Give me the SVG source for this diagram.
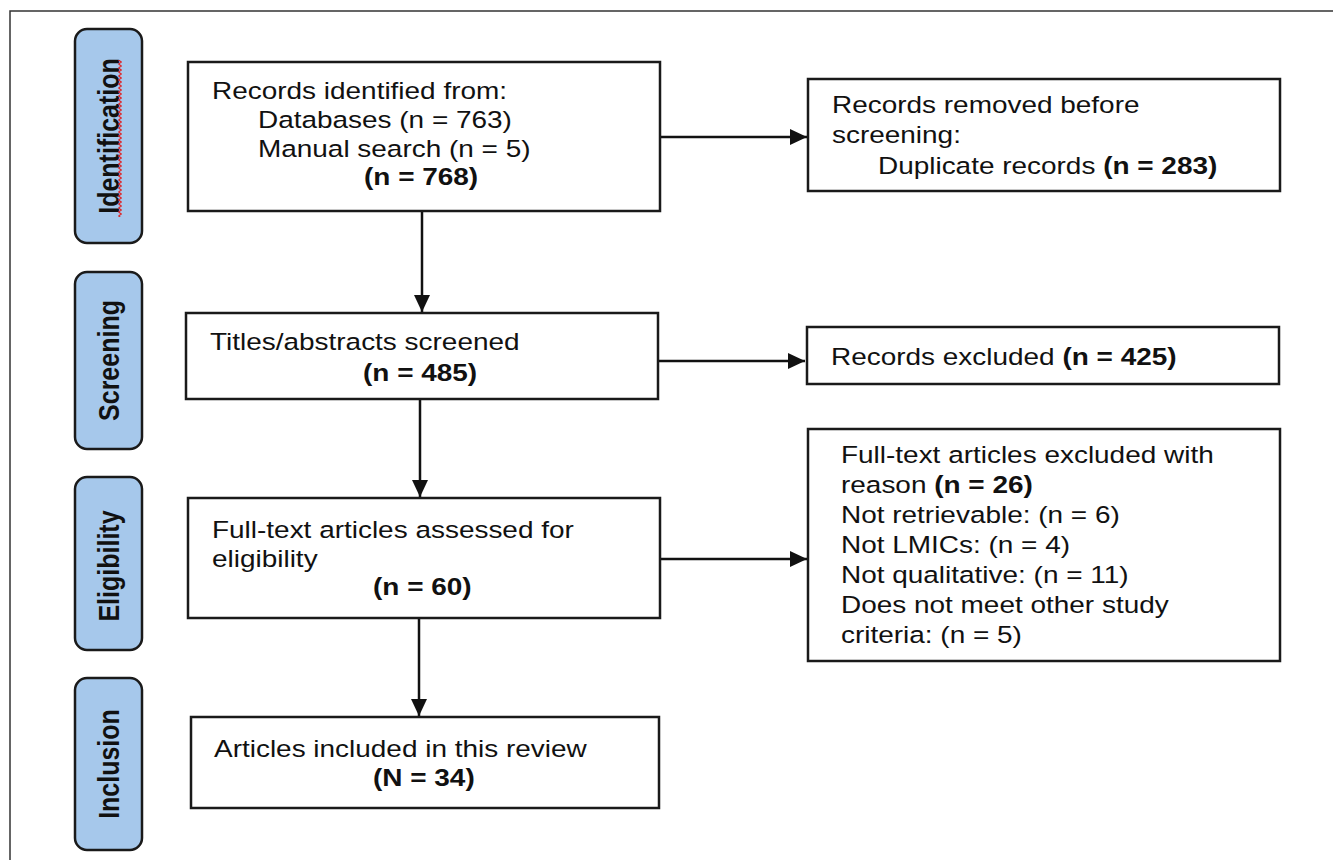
<svg xmlns="http://www.w3.org/2000/svg" width="1333" height="860" viewBox="0 0 1333 860">
  <style>
    .box { fill: #ffffff; stroke: #1a1a1a; stroke-width: 2.5; }
    .pill { fill: #a6c8eb; stroke: #1a1a1a; stroke-width: 2.5; }
    .t { font-family: "Liberation Sans", Arial, sans-serif; font-size: 23.3px; fill: #111111; }
    .b { font-weight: bold; }
    .lab { font-family: "Liberation Sans", Arial, sans-serif; font-size: 25px; font-weight: bold; fill: #111111; text-anchor: middle; }
    .conn { stroke: #111111; stroke-width: 2.5; fill: none; marker-end: url(#arrow); }
  </style>
  <defs>
    <marker id="arrow" markerUnits="userSpaceOnUse" markerWidth="18" markerHeight="16" refX="17" refY="8" orient="auto">
      <path d="M0,0 L17,8 L0,16 Z" fill="#111111"/>
    </marker>
    <pattern id="squig" patternUnits="userSpaceOnUse" x="118" y="0" width="4" height="4">
      <path d="M0.5,0 L3.5,2 L0.5,4" stroke="#e02020" stroke-width="1.1" fill="none"/>
    </pattern>
  </defs>
  <rect x="0" y="0" width="1333" height="860" fill="#ffffff"/>
  <rect x="10" y="11" width="1400" height="900" fill="none" stroke="#333333" stroke-width="1.5"/>

  <g id="stage-identification">
    <rect class="pill" x="75" y="29" width="67" height="214" rx="12" ry="12"/>
    <text class="lab" transform="translate(108.5,136) scale(1.2,1) rotate(-90)" x="0" y="9">Identification</text>
    <rect x="118" y="60" width="4" height="157" fill="url(#squig)"/>
  </g>
  <g id="stage-screening">
    <rect class="pill" x="75" y="272" width="67" height="177" rx="12" ry="12"/>
    <text class="lab" transform="translate(108.5,360.5) scale(1.2,1) rotate(-90)" x="0" y="9">Screening</text>
  </g>
  <g id="stage-eligibility">
    <rect class="pill" x="75" y="477" width="67" height="173" rx="12" ry="12"/>
    <text class="lab" transform="translate(108.5,566) scale(1.2,1) rotate(-90)" x="0" y="9">Eligibility</text>
  </g>
  <g id="stage-inclusion">
    <rect class="pill" x="75" y="678" width="67" height="172" rx="12" ry="12"/>
    <text class="lab" transform="translate(108.5,764) scale(1.2,1) rotate(-90)" x="0" y="9">Inclusion</text>
  </g>

  <g id="connectors">
    <line class="conn" x1="422" y1="211" x2="422" y2="312"/>
    <line class="conn" x1="420" y1="399" x2="420" y2="497"/>
    <line class="conn" x1="419" y1="618" x2="419" y2="716"/>
    <line class="conn" x1="660" y1="137" x2="807" y2="137"/>
    <line class="conn" x1="658" y1="361" x2="805" y2="361"/>
    <line class="conn" x1="660" y1="559" x2="807" y2="559"/>
  </g>

  <g id="node-identified">
    <rect class="box" x="188" y="62" width="472" height="149"/>
    <g transform="translate(212,0) scale(1.2,1)">
      <text class="t" x="0" y="99">Records identified from:</text>
      <text class="t" x="38.3" y="128.5">Databases (n = 763)</text>
      <text class="t" x="38.3" y="157">Manual search (n = 5)</text>
      <text class="t b" x="126.7" y="185">(n = 768)</text>
    </g>
  </g>

  <g id="node-removed">
    <rect class="box" x="808" y="79" width="472" height="112"/>
    <g transform="translate(832,0) scale(1.2,1)">
      <text class="t" x="0" y="113">Records removed before</text>
      <text class="t" x="0" y="143">screening:</text>
      <text class="t" x="38.3" y="174">Duplicate records <tspan class="b">(n = 283)</tspan></text>
    </g>
  </g>

  <g id="node-screened">
    <rect class="box" x="186" y="313" width="472" height="86"/>
    <g transform="translate(210,0) scale(1.2,1)">
      <text class="t" x="0" y="350">Titles/abstracts screened</text>
      <text class="t b" x="127.5" y="381">(n = 485)</text>
    </g>
  </g>

  <g id="node-excluded">
    <rect class="box" x="807" y="327" width="472" height="57"/>
    <g transform="translate(831,0) scale(1.2,1)">
      <text class="t" x="0" y="365">Records excluded <tspan class="b">(n = 425)</tspan></text>
    </g>
  </g>

  <g id="node-fulltext">
    <rect class="box" x="188" y="498" width="472" height="120"/>
    <g transform="translate(212,0) scale(1.2,1)">
      <text class="t" x="0" y="538">Full-text articles assessed for</text>
      <text class="t" x="0" y="567">eligibility</text>
      <text class="t b" x="134.2" y="595">(n = 60)</text>
    </g>
  </g>

  <g id="node-fulltext-excluded">
    <rect class="box" x="808" y="429" width="472" height="232"/>
    <g transform="translate(841,0) scale(1.2,1)">
      <text class="t" x="0" y="463">Full-text articles excluded with</text>
      <text class="t" x="0" y="493">reason <tspan class="b">(n = 26)</tspan></text>
      <text class="t" x="0" y="523">Not retrievable: (n = 6)</text>
      <text class="t" x="0" y="553">Not LMICs: (n = 4)</text>
      <text class="t" x="0" y="583">Not qualitative: (n = 11)</text>
      <text class="t" x="0" y="613">Does not meet other study</text>
      <text class="t" x="0" y="643">criteria: (n = 5)</text>
    </g>
  </g>

  <g id="node-included">
    <rect class="box" x="191" y="717" width="468" height="91"/>
    <g transform="translate(214,0) scale(1.2,1)">
      <text class="t" x="0" y="757">Articles included in this review</text>
      <text class="t b" x="132.5" y="786">(N = 34)</text>
    </g>
  </g>
</svg>
